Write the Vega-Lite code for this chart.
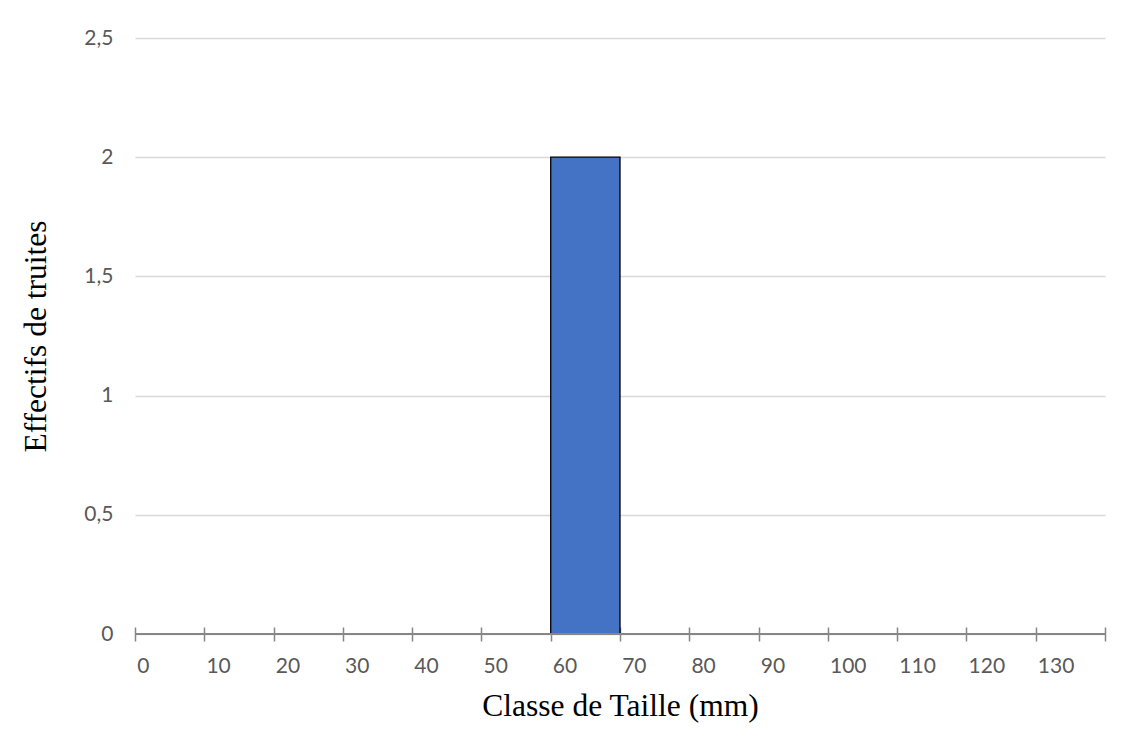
{
  "$schema": "https://vega.github.io/schema/vega-lite/v6.json",
  "width": 970,
  "height": 596,
  "autosize": {"type": "none"},
  "padding": {"left": 135, "top": 38, "right": 21, "bottom": 117},
  "background": "white",
  "config": {"view": {"stroke": null}},
  "data": {"values": [
    {"classe": "0", "effectif": 0},
    {"classe": "10", "effectif": 0},
    {"classe": "20", "effectif": 0},
    {"classe": "30", "effectif": 0},
    {"classe": "40", "effectif": 0},
    {"classe": "50", "effectif": 0},
    {"classe": "60", "effectif": 2},
    {"classe": "70", "effectif": 0},
    {"classe": "80", "effectif": 0},
    {"classe": "90", "effectif": 0},
    {"classe": "100", "effectif": 0},
    {"classe": "110", "effectif": 0},
    {"classe": "120", "effectif": 0},
    {"classe": "130", "effectif": 0}
  ]},
  "layer": [
    {
      "mark": {"type": "bar", "fill": "#4472C4", "stroke": "#000000", "strokeWidth": 1.3},
      "encoding": {
        "x": {
          "field": "classe", "type": "ordinal", "sort": null,
          "scale": {"paddingInner": 0, "paddingOuter": 0},
          "axis": {
            "title": "Classe de Taille (mm)",
            "titleFont": "Liberation Serif", "titleFontSize": 31.5, "titleFontWeight": "normal", "titleColor": "#000000",
            "titlePadding": 14,
            "labelAngle": 0, "labelAlign": "left", "tickBand": "extent",
            "labelFont": "Lato", "labelFontSize": 21, "labelColor": "#595959", "labelPadding": 14, "labelOffset": -33,
            "domain": false, "ticks": true, "tickSize": 14, "offset": -7, "tickColor": "#868686", "tickWidth": 1.5
          }
        },
        "y": {
          "field": "effectif", "type": "quantitative",
          "scale": {"domain": [0, 2.5], "nice": false},
          "axis": {
            "title": "Effectifs de truites",
            "titleFont": "Liberation Serif", "titleFontSize": 31.5, "titleFontWeight": "normal", "titleColor": "#000000",
            "titlePadding": 31,
            "values": [0, 0.5, 1, 1.5, 2, 2.5],
            "labelExpr": "replace(format(datum.value, ''), '.', ',')",
            "labelFont": "Lato", "labelFontSize": 21, "labelColor": "#595959", "labelPadding": 22,
            "domain": false, "ticks": false, "gridColor": "#d9d9d9", "gridWidth": 1.3
          }
        }
      }
    },
    {
      "mark": {"type": "rule", "color": "#868686", "strokeWidth": 2},
      "encoding": {"y": {"datum": 0}}
    }
  ]
}
